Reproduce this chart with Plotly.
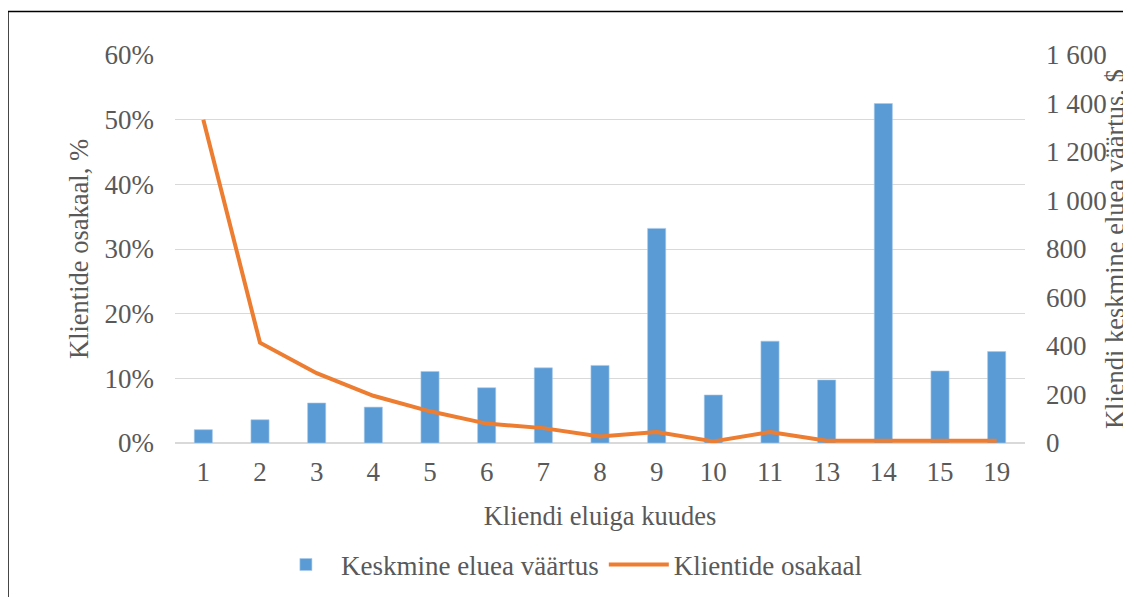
import plotly.graph_objects as go

months = ["1", "2", "3", "4", "5", "6", "7", "8", "9", "10", "11", "13", "14", "15", "19"]
avg_value = [55, 96, 165, 148, 295, 228, 310, 320, 885, 198, 420, 260, 1400, 297, 377]
client_share = [0.500, 0.155, 0.108, 0.073, 0.049, 0.030, 0.023, 0.010, 0.017, 0.0025, 0.017, 0.0035, 0.0035, 0.0035, 0.0035]

TXT = "#595959"
FONT = "Liberation Serif"


def fnt(size):
    return dict(family=FONT, size=size, color=TXT)


fig = go.Figure()
fig.add_trace(go.Bar(
    x=months, y=avg_value, name="Keskmine eluea väärtus",
    marker=dict(color="#5B9BD5", line=dict(color="#A9C9EA", width=0.6)),
    width=0.32, yaxis="y",
))
fig.add_trace(go.Scatter(
    x=months, y=client_share, name="Klientide osakaal", mode="lines",
    line=dict(color="#ED7D31", width=4), yaxis="y2",
))

fig.update_layout(
    width=1123, height=589,
    margin=dict(l=167, r=106, t=47, b=154),
    paper_bgcolor="white", plot_bgcolor="white",
    font=fnt(27),
    separators=". ",
    showlegend=True,
    legend=dict(orientation="h", x=0.464, xanchor="center", yref="container", y=0.0543, yanchor="middle",
                font=fnt(27), traceorder="normal", itemwidth=60),
    xaxis=dict(type="category", showgrid=False, showline=False, zeroline=False, automargin=False,
               ticks="", tickfont=fnt(27), ticklabelstandoff=10,
               title=dict(text="Kliendi eluiga kuudes", font=fnt(26.5), standoff=20)),
    yaxis=dict(side="right", range=[0, 1600], dtick=200, tickformat=",d", automargin=False,
               showgrid=False, zeroline=False, showline=False, ticks="",
               tickfont=fnt(27), ticklabelstandoff=20),
    yaxis2=dict(overlaying="y", side="left", range=[0, 0.6], dtick=0.1, tickformat=".0%", automargin=False,
                showgrid=True, gridcolor="#D9D9D9", gridwidth=1.2,
                zeroline=True, zerolinecolor="#D9D9D9", zerolinewidth=1.5,
                showline=False, ticks="", tickfont=fnt(27), ticklabelstandoff=20,
                title=dict(text="Klientide osakaal, %", font=fnt(26.5), standoff=8)),
    annotations=[dict(text="Kliendi keskmine eluea väärtus, $", xref="paper", yref="paper",
                      x=1.106, y=0.5, xanchor="center", yanchor="middle", textangle=-90,
                      showarrow=False, font=fnt(26.5))],
    shapes=[dict(type="rect", xref="paper", yref="paper", x0=-0.1965, x1=1.14, y0=-0.45, y1=1.112,
                 line=dict(color="black", width=1.5), fillcolor="rgba(0,0,0,0)", layer="above")],
)

fig.write_html("out.html")
